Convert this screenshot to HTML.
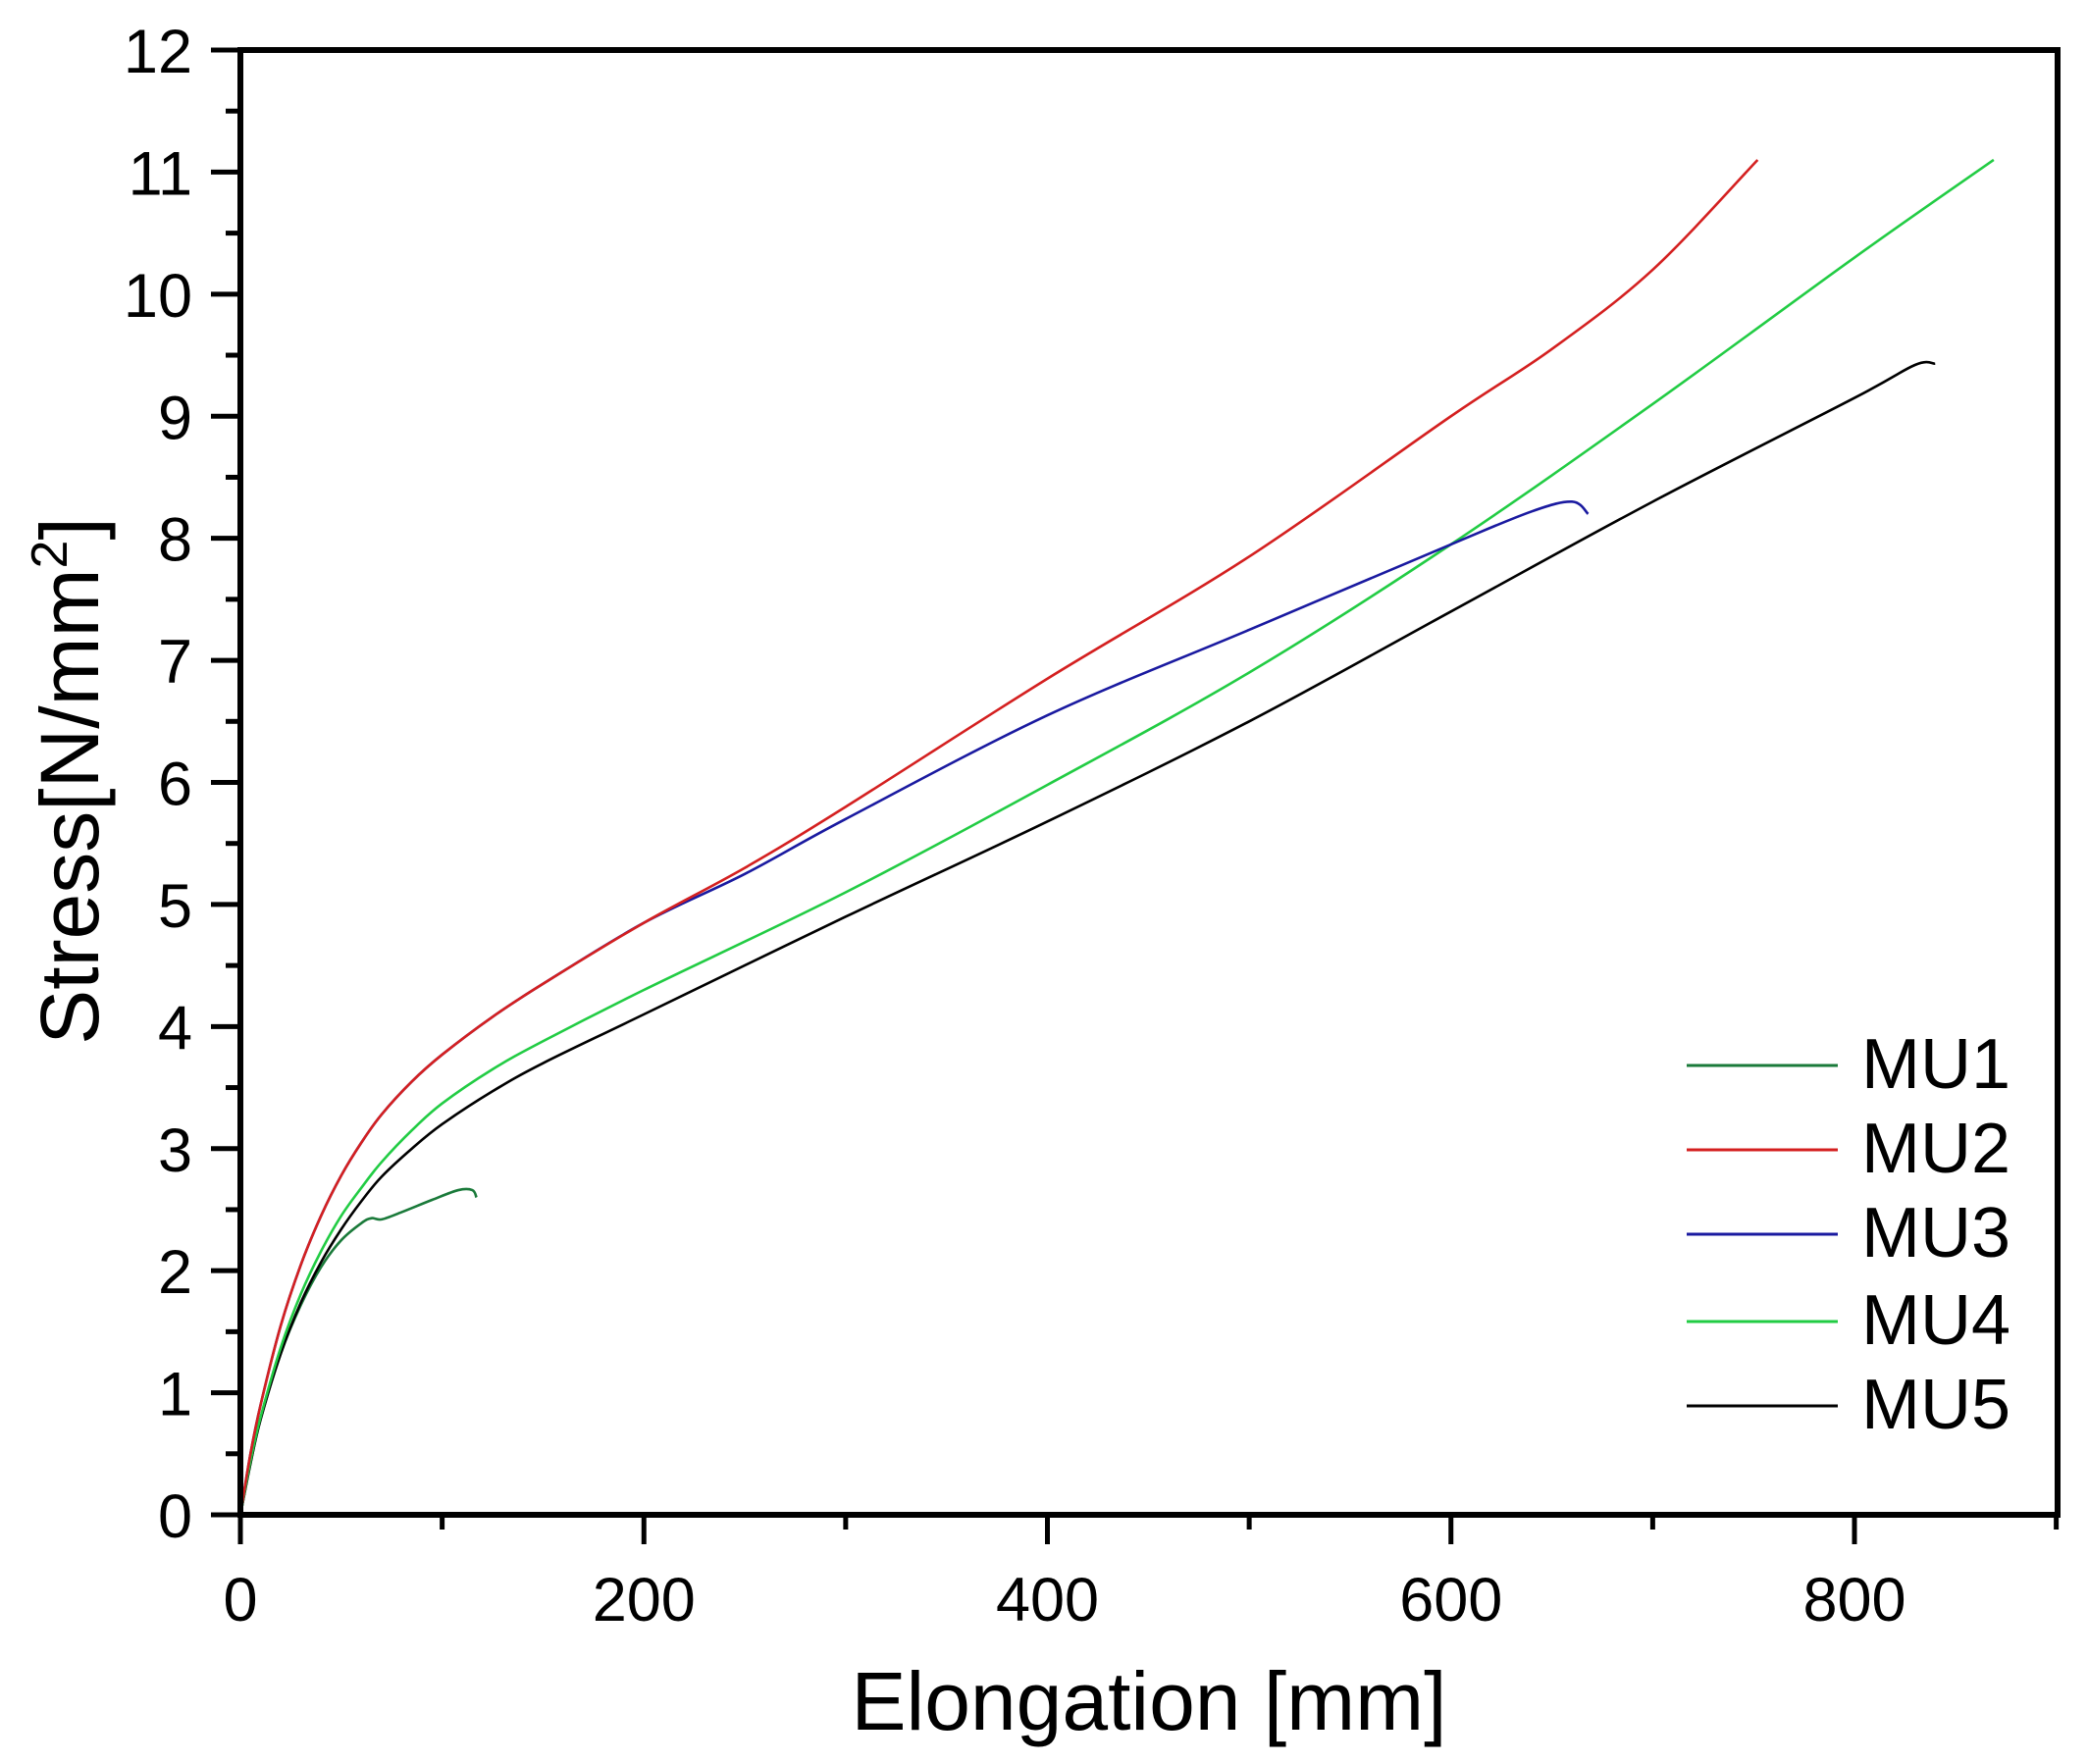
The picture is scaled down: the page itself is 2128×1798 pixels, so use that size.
<!DOCTYPE html>
<html><head><meta charset="utf-8"><style>
html,body{margin:0;padding:0;background:#fff;}
svg{display:block;}
text{font-family:"Liberation Sans",Arial,sans-serif;fill:#000;}
</style></head><body>
<svg id="s" width="2128" height="1798" viewBox="0 0 2128 1798" xmlns="http://www.w3.org/2000/svg">
<g id="ticks" stroke="#000" stroke-width="5"></g>
<g id="curves" fill="none" stroke-width="2.6" stroke-linejoin="round"></g>
<rect x="245" y="51" width="1852" height="1493" fill="none" stroke="#000" stroke-width="6"/>
<g id="labels" font-size="63"></g>
<text x="1171" y="1763" font-size="84" text-anchor="middle">Elongation [mm]</text>
<text transform="translate(100,796) rotate(-90)" font-size="84" text-anchor="middle">Stress[N/mm<tspan font-size="52" dy="-32">2</tspan><tspan dy="32">]</tspan></text>
<g font-size="72">
<line x1="1719" y1="1086" x2="1873" y2="1086" stroke="#1a7a3a" stroke-width="3"/><text x="1897" y="1109">MU1</text>
<line x1="1719" y1="1172" x2="1873" y2="1172" stroke="#d42020" stroke-width="3"/><text x="1897" y="1195">MU2</text>
<line x1="1719" y1="1258" x2="1873" y2="1258" stroke="#1a1aa0" stroke-width="3"/><text x="1897" y="1281">MU3</text>
<line x1="1719" y1="1347" x2="1873" y2="1347" stroke="#22cc44" stroke-width="3"/><text x="1897" y="1370">MU4</text>
<line x1="1719" y1="1433" x2="1873" y2="1433" stroke="#000" stroke-width="3"/><text x="1897" y="1456">MU5</text>
</g>
</svg>
<script>
var X0=245,XS=(1890-245)/800,Y0=1544,YS=(1544-51)/12;
function px(x){return X0+x*XS}function py(y){return Y0-y*YS}
var NS="http://www.w3.org/2000/svg";
var tk=document.getElementById('ticks'),lb=document.getElementById('labels');
function ln(g,a,b,c,d){var l=document.createElementNS(NS,'line');l.setAttribute('x1',a);l.setAttribute('y1',b);l.setAttribute('x2',c);l.setAttribute('y2',d);g.appendChild(l);}
function tx(g,x,y,s,anc){var t=document.createElementNS(NS,'text');t.setAttribute('x',x);t.setAttribute('y',y);t.setAttribute('text-anchor',anc);t.textContent=s;g.appendChild(t);}
for(var i=0;i<=24;i++){var y=py(i/2);var len=(i%2==0)?30:15;ln(tk,245-len,y,245,y);if(i%2==0)tx(lb,196,y+23,String(i/2),'end');}
for(var i=0;i<=9;i++){var x=px(i*100);var len=(i%2==0)?30:15;ln(tk,x,1544,x,1544+len);if(i%2==0&&i<9)tx(lb,x,1652,String(i*100),'middle');}
var early=[[0,0],[5,0.5],[10,0.9],[20,1.55],[30,2.05],[40,2.45],[50,2.78],[60,3.05],[70,3.28],[85,3.55],[100,3.77],[125,4.08],[150,4.35],[200,4.85]];
var data={
"#1a7a3a":[[0,0],[5,0.42],[10,0.78],[20,1.32],[30,1.72],[40,2.03],[50,2.25],[60,2.39],[65,2.43],[70,2.42],[80,2.48],[95,2.58],[108,2.66],[115,2.66],[117,2.6]],
"#000":[[0,0],[5,0.42],[10,0.78],[20,1.32],[30,1.74],[40,2.07],[50,2.34],[60,2.57],[70,2.77],[85,3.0],[100,3.2],[125,3.47],[150,3.7],[200,4.1],[300,4.9],[400,5.68],[500,6.5],[600,7.4],[700,8.3],[800,9.15],[830,9.42],[840,9.43]],
"#22cc44":[[0,0],[5,0.44],[10,0.8],[20,1.37],[30,1.81],[40,2.16],[50,2.45],[60,2.68],[70,2.89],[85,3.15],[100,3.37],[125,3.65],[150,3.88],[200,4.3],[300,5.1],[400,5.98],[500,6.9],[600,7.95],[700,9.1],[800,10.3],[869,11.1]],
"#1a1aa0":early.concat([[250,5.25],[300,5.7],[400,6.55],[500,7.25],[600,7.95],[640,8.22],[660,8.3],[668,8.2]]),
"#d42020":early.concat([[250,5.3],[300,5.8],[400,6.85],[500,7.85],[600,9.0],[650,9.55],[700,10.2],[752,11.1]])};
var cg=document.getElementById('curves');
for(var c in data){var p=data[c].map(function(q){return[px(q[0]),py(q[1])]});
var d="M"+p[0][0]+","+p[0][1];
for(var i=0;i<p.length-1;i++){var a=p[Math.max(i-1,0)],b=p[i],e=p[i+1],f=p[Math.min(i+2,p.length-1)];
d+=" C"+(b[0]+(e[0]-a[0])/6)+","+(b[1]+(e[1]-a[1])/6)+" "+(e[0]-(f[0]-b[0])/6)+","+(e[1]-(f[1]-b[1])/6)+" "+e[0]+","+e[1];}
var pa=document.createElementNS(NS,'path');pa.setAttribute('d',d);pa.setAttribute('stroke',c);cg.appendChild(pa);}
</script>
</body></html>
